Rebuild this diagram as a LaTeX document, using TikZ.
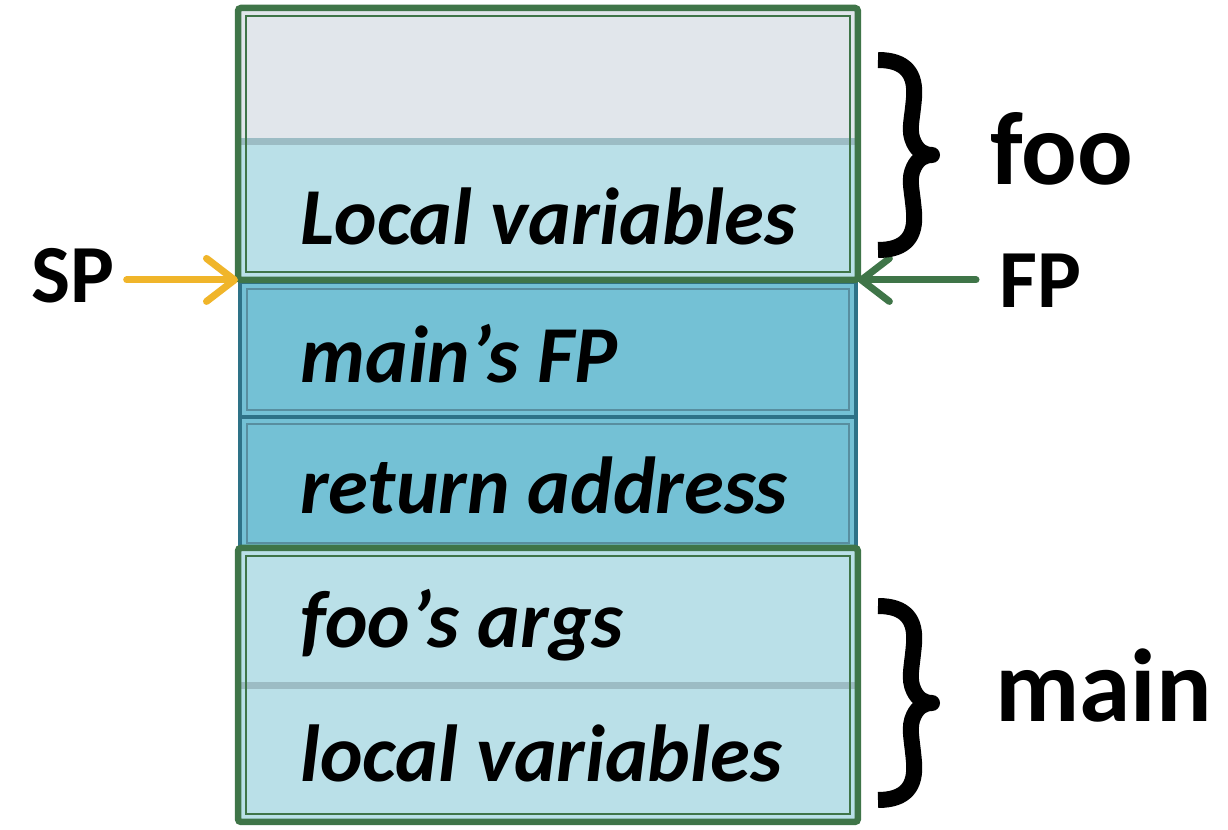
\documentclass[tikz,border=0pt]{standalone}
\usepackage{fontspec}
\setmainfont{Carlito}
\usetikzlibrary{arrows.meta}
\definecolor{grayc}{HTML}{E1E6EB}
\definecolor{lightb}{HTML}{BAE0E8}
\definecolor{midb}{HTML}{74C1D5}
\definecolor{tealc}{HTML}{2E7287}
\definecolor{greenc}{HTML}{3F7548}
\definecolor{sepc}{HTML}{9CBCC4}
\definecolor{yellowc}{HTML}{F0B52A}
\begin{document}
\begin{tikzpicture}[x=0.02cm,y=-0.02cm,
  cellbox/.style={anchor=north west, inner sep=0pt, outer sep=0pt, minimum width=12.32cm},
  framebox/.style={anchor=north west, inner sep=0pt, outer sep=0pt, draw=greenc, line width=0.13cm, rounded corners=0.06cm, minimum width=12.4cm},
  bluebox/.style={cellbox, fill=midb, draw=tealc, line width=0.09cm},
  innerg/.style={draw=greenc, line width=0.025cm},
  innert/.style={draw=tealc!80!white, line width=0.025cm},
  sepband/.style={draw=sepc, line width=0.14cm},
  celltext/.style={anchor=base west, inner sep=0pt, font=\bfseries\itshape\fontsize{46}{50}\selectfont},
  sidetext/.style={anchor=base west, inner sep=0pt, font=\bfseries\fontsize{47}{50}\selectfont},
  bigtext/.style={anchor=base west, inner sep=0pt, font=\bfseries\fontsize{59}{64}\selectfont},
  ptrarrow/.style={line width=0.14cm, line cap=round, -{Straight Barb[length=0.56cm, width=0.86cm, line cap=round, line join=round]}},
  bracepath/.style={draw=black, line width=0.32cm, line join=round},
  mybrace/.pic={\path[bracepath] (-54,-#1) .. controls (-26,-#1) and (-16,-#1+14) .. (-18,-#1+38) .. controls (-20,-#1+62) and (-24,-24) .. (-18,-12) .. controls (-14,-4) and (-8,0) .. (0,0) .. controls (-8,0) and (-14,4) .. (-18,12) .. controls (-24,24) and (-20,#1-62) .. (-18,#1-38) .. controls (-16,#1-14) and (-26,#1) .. (-54,#1);}
]
\useasboundingbox (0,0) rectangle (1228,830);
\fill[white] (0,0) rectangle (1228,830);

% foo frame cells
\node[cellbox, fill=grayc, minimum height=2.64cm] (topcell) at (240,10) {};
\node[cellbox, fill=lightb, minimum height=2.72cm] (foolv) at (240,142) {};
\draw[sepband] (topcell.south west) -- (topcell.south east);
\draw[innerg] (246,16) rectangle (850,272);

% middle cells
\node[bluebox, minimum height=2.7cm] (mfp) at (240,282) {};
\node[bluebox, minimum height=2.66cm] (ret) at (240,417) {};
\draw[innert] (247,289) rectangle (849,410);
\draw[innert] (247,424) rectangle (849,543);

% main frame cells
\node[cellbox, fill=lightb, minimum height=2.72cm] (args) at (240,550) {};
\node[cellbox, fill=lightb, minimum height=2.68cm] (mlv) at (240,686) {};
\draw[sepband] (args.south west) -- (args.south east);
\draw[innerg] (246,556) rectangle (850,814);

% frames
\node[framebox, minimum height=5.44cm] (fooframe) at (238,8) {};
\node[framebox, minimum height=5.48cm] (mainframe) at (238,548) {};

% cell texts
\node[celltext] (t1) at (300,245) {Local variables};
\node[celltext] (t2) at (300,383) {main’s FP};
\node[celltext] (t3) at (300,514) {return address};
\node[celltext] (t4) at (300,648) {foo’s args};
\node[celltext] (t5) at (300,782) {local variables};

% pointers
\node[sidetext] (sp) at (31,303) {SP};
\node[sidetext] (fp) at (999,308) {FP};
\draw[ptrarrow, draw=yellowc, shorten <=0.24cm] (sp.east |- fooframe.south west) -- (fooframe.south west);
\draw[ptrarrow, draw=greenc, shorten <=0.46cm] (fp.west |- fooframe.south east) -- (fooframe.south east);

% braces and labels
\pic at (932,155) {mybrace=95};
\pic at (932,703) {mybrace=97};
\node[bigtext] (foo) at (990,185) {foo};
\node[bigtext] (main) at (995,722) {main};
\end{tikzpicture}
\end{document}
